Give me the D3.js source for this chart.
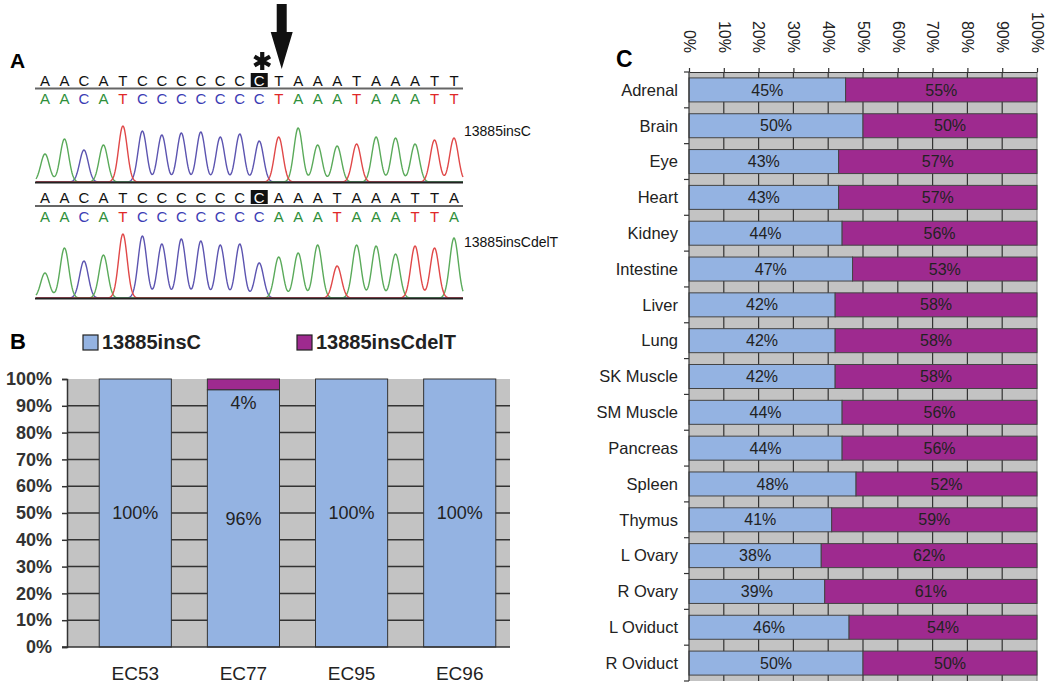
<!DOCTYPE html>
<html><head><meta charset="utf-8">
<script src="https://cdn.jsdelivr.net/npm/d3@7"></script>
<style>body{margin:0;background:#fff} svg{display:block;font-family:"Liberation Sans",Arial,sans-serif}</style>
</head><body><svg id="chart" width="1050" height="687"></svg>
<script>
// ---------- Panel A data ----------
const seq1 = "AACATCCCCCCCTAAATAAATT".split("");
const seq2 = "AACATCCCCCCCAAATAAATTA".split("");
const markIndex = 11;
const peaks1 = [28,43,32,37,56,51,47,49,50,45,48,41,45,54,37,36,38,45,44,38,42,44];
const peaks2 = [25,50,37,43,64,62,54,59,57,53,54,35,41,45,53,32,53,52,44,52,50,60];
const traceNames = ["13885insC","13885insCdelT"];
// ---------- Panel B data ----------
const bCats = ["EC53","EC77","EC95","EC96"];
const bInsC = [100,96,100,100];
const bInsCdelT = [0,4,0,0];
const bTicks = [0,10,20,30,40,50,60,70,80,90,100];
const seriesNames = ["13885insC","13885insCdelT"];
// ---------- Panel C data ----------
const cCats = ["Adrenal","Brain","Eye","Heart","Kidney","Intestine","Liver","Lung","SK Muscle","SM Muscle","Pancreas","Spleen","Thymus","L Ovary","R Ovary","L Oviduct","R Oviduct"];
const cInsC = [45,50,43,43,44,47,42,42,42,44,44,48,41,38,39,46,50];
const cInsCdelT = [55,50,57,57,56,53,58,58,58,56,56,52,59,62,61,54,50];
const cTicks = [0,10,20,30,40,50,60,70,80,90,100];

const BLUE = "#94b3e2", PURPLE = "#9e2a8f", GRAY = "#c3c3c3", DARK = "#333";
const baseTrace = {A:"#5aaa5a", C:"#5c54b0", T:"#e04848", G:"#222"};
const baseLetter = {A:"#2e8f3a", C:"#3c3cb4", T:"#e02828", G:"#222"};

const svg = d3.select("#chart");

// ================= Panel A =================
const gA = svg.append("g");
gA.append("text").attr("x",10).attr("y",68).attr("font-size",21).attr("font-weight","bold").text("A");
const px = d3.scaleLinear().domain([0,21]).range([45,454]);

function drawRow(seq, peaks, yBlack, yLine, yColor, yBase, name, nameY){
  gA.append("rect").attr("x",px(markIndex)-8.5).attr("y",yBlack-13).attr("width",17).attr("height",14).attr("fill","#111");
  gA.selectAll(null).data(seq).join("text")
    .attr("x",(d,i)=>px(i)).attr("y",yBlack).attr("text-anchor","middle").attr("font-size",15)
    .attr("fill",(d,i)=>i===markIndex?"#fff":"#111").text(d=>d);
  gA.append("line").attr("x1",35).attr("x2",463).attr("y1",yLine).attr("y2",yLine).attr("stroke","#666").attr("stroke-width",2);
  gA.selectAll(null).data(seq).join("text")
    .attr("x",(d,i)=>px(i)).attr("y",yColor).attr("text-anchor","middle").attr("font-size",15)
    .attr("fill",d=>baseLetter[d]).text(d=>d);
  const hy = d3.scaleLinear().domain([0,70]).range([yBase, yBase-70]);
  const xs = d3.range(36, 463.5, 0.5);
  const sigma = 4.3;
  ["C","A","T"].forEach(b=>{
    const pts = xs.map(x=>{
      let s = 0;
      seq.forEach((c,i)=>{ if(c===b){ const dx=x-px(i); s += peaks[i]*Math.exp(-dx*dx/(2*sigma*sigma)); } });
      return [x, hy(s)];
    });
    gA.append("path").attr("d", d3.line()(pts)).attr("fill","none").attr("stroke",baseTrace[b]).attr("stroke-width",1.4);
  });
  gA.append("line").attr("x1",35).attr("x2",463).attr("y1",yBase+0.5).attr("y2",yBase+0.5).attr("stroke","#222").attr("stroke-width",2.2);
  gA.append("text").attr("x",464).attr("y",nameY).attr("font-size",14).attr("fill","#111").text(name);
}
drawRow(seq1, peaks1, 86, 88.5, 104, 182, traceNames[0], 136);
drawRow(seq2, peaks2, 203, 206, 222, 298, traceNames[1], 247);
// asterisk and arrow (annotation marks)
gA.append("path").attr("transform",`translate(${px(markIndex)+3},61)`)
  .attr("d", d3.symbol(d3.symbolAsterisk, 230)()).attr("fill","none").attr("stroke","#111").attr("stroke-width",4.2);
const ax = px(12)+3;
gA.append("path").attr("d",`M${ax-5},4 L${ax+5},4 L${ax+5},32 L${ax+11},32 L${ax},69 L${ax-11},32 L${ax-5},32 Z`).attr("fill","#111");

// ================= Panel B =================
const gB = svg.append("g");
gB.append("text").attr("x",10).attr("y",349).attr("font-size",22).attr("font-weight","bold").text("B");
const legB = gB.selectAll(null).data(seriesNames).join("g")
  .attr("transform",(d,i)=>`translate(${[83,297][i]},335)`);
legB.append("rect").attr("width",15).attr("height",15).attr("fill",(d,i)=>[BLUE,PURPLE][i]).attr("stroke","#222").attr("stroke-width",1.2);
legB.append("text").attr("x",19).attr("y",14).attr("font-size",20).attr("font-weight","bold").attr("fill","#222").text(d=>d);

const bx0 = 67, bx1 = 510;
const by = d3.scaleLinear().domain([0,100]).range([647,379]);
const bx = d3.scaleBand().domain(bCats).range([83,512]).paddingInner(0.333).paddingOuter(0.15);
gB.append("rect").attr("x",bx0).attr("y",by(100)).attr("width",bx1-bx0).attr("height",by(0)-by(100)).attr("fill",GRAY);
gB.selectAll(null).data(bTicks.filter(t=>t>0&&t<100)).join("line")
  .attr("x1",bx0).attr("x2",bx1).attr("y1",d=>by(d)).attr("y2",d=>by(d)).attr("stroke",DARK).attr("stroke-width",1.5);
gB.selectAll(null).data(bCats).join("rect")
  .attr("x",d=>bx(d)).attr("width",bx.bandwidth())
  .attr("y",(d,i)=>by(bInsC[i])).attr("height",(d,i)=>by(0)-by(bInsC[i]))
  .attr("fill",BLUE).attr("stroke","#333").attr("stroke-width",1);
const bStack = bCats.map((d,i)=>({cat:d, lo:bInsC[i], hi:bInsC[i]+bInsCdelT[i], v:bInsCdelT[i]})).filter(o=>o.v>0);
gB.selectAll(null).data(bStack).join("rect")
  .attr("x",o=>bx(o.cat)).attr("width",bx.bandwidth())
  .attr("y",o=>by(o.hi)).attr("height",o=>by(o.lo)-by(o.hi))
  .attr("fill",PURPLE).attr("stroke","#333").attr("stroke-width",1);
gB.selectAll(null).data(bCats).join("text")
  .attr("x",d=>bx(d)+bx.bandwidth()/2).attr("y",(d,i)=>(by(0)+by(bInsC[i]))/2).attr("dy","0.35em")
  .attr("text-anchor","middle").attr("font-size",18).attr("fill","#222").text((d,i)=>bInsC[i]+"%");
gB.selectAll(null).data(bStack).join("text")
  .attr("x",o=>bx(o.cat)+bx.bandwidth()/2).attr("y",o=>by(o.lo)+13).attr("dy","0.35em")
  .attr("text-anchor","middle").attr("font-size",18).attr("fill","#222").text(o=>o.v+"%");
const yAxB = gB.append("g").attr("transform",`translate(${bx0},0)`)
  .call(d3.axisLeft(by).tickValues(bTicks).tickSize(5).tickFormat(d=>d+"%"));
yAxB.select(".domain").attr("stroke","#333").attr("stroke-width",1.5);
yAxB.selectAll(".tick line").attr("stroke","#333").attr("stroke-width",1.5);
yAxB.selectAll("text").attr("font-size",18).attr("font-weight","bold").attr("fill","#333").attr("x",-15).attr("font-family","Liberation Sans, Arial, sans-serif");
gB.append("line").attr("x1",62).attr("x2",bx1).attr("y1",by(0)).attr("y2",by(0)).attr("stroke","#333").attr("stroke-width",1.5);
gB.selectAll(null).data(bCats).join("text")
  .attr("x",d=>bx(d)+bx.bandwidth()/2).attr("y",680).attr("text-anchor","middle")
  .attr("font-size",19).attr("fill","#222").text(d=>d);

// ================= Panel C =================
const gC = svg.append("g");
gC.append("text").attr("x",616).attr("y",67).attr("font-size",23).attr("font-weight","bold").text("C");
const cx = d3.scaleLinear().domain([0,100]).range([689,1037]);
const cy = d3.scaleBand().domain(cCats).range([72,681]).paddingInner(0.33).paddingOuter(0.165);
gC.append("rect").attr("x",cx(0)).attr("y",72).attr("width",cx(100)-cx(0)).attr("height",681-72).attr("fill",GRAY);
gC.selectAll(null).data(cTicks.filter(t=>t>0)).join("line")
  .attr("x1",d=>cx(d)).attr("x2",d=>cx(d)).attr("y1",72).attr("y2",681)
  .attr("stroke",d=>d===100?"#888":DARK).attr("stroke-width",1.2);
gC.selectAll(null).data(cCats).join("rect")
  .attr("x",cx(0)).attr("y",d=>cy(d)).attr("height",cy.bandwidth())
  .attr("width",(d,i)=>cx(cInsC[i])-cx(0)).attr("fill",BLUE).attr("stroke","#444").attr("stroke-width",1);
gC.selectAll(null).data(cCats).join("rect")
  .attr("x",(d,i)=>cx(cInsC[i])).attr("y",d=>cy(d)).attr("height",cy.bandwidth())
  .attr("width",(d,i)=>cx(cInsC[i]+cInsCdelT[i])-cx(cInsC[i])).attr("fill",PURPLE).attr("stroke","#444").attr("stroke-width",1);
gC.selectAll(null).data(cCats).join("text")
  .attr("x",(d,i)=>(cx(0)+cx(cInsC[i]))/2).attr("y",d=>cy(d)+cy.bandwidth()/2).attr("dy","0.35em")
  .attr("text-anchor","middle").attr("font-size",16).attr("fill","#222").text((d,i)=>cInsC[i]+"%");
gC.selectAll(null).data(cCats).join("text")
  .attr("x",(d,i)=>(cx(cInsC[i])+cx(100))/2).attr("y",d=>cy(d)+cy.bandwidth()/2).attr("dy","0.35em")
  .attr("text-anchor","middle").attr("font-size",16).attr("fill","#222").text((d,i)=>cInsCdelT[i]+"%");
const xAxC = gC.append("g").attr("transform","translate(0,72)")
  .call(d3.axisTop(cx).tickValues(cTicks).tickSize(4).tickSizeOuter(0).tickFormat(d=>d+"%"));
xAxC.select(".domain").attr("stroke","#333").attr("stroke-width",1.2);
xAxC.selectAll(".tick line").attr("stroke","#333").attr("stroke-width",1.2);
xAxC.selectAll("text").attr("transform","rotate(90)").attr("x",-19).attr("y",0).attr("dy","0.35em")
  .attr("text-anchor","end").attr("font-size",16).attr("fill","#222").attr("font-family","Liberation Sans, Arial, sans-serif");
gC.append("line").attr("x1",cx(0)).attr("x2",cx(0)).attr("y1",72).attr("y2",681).attr("stroke","#333").attr("stroke-width",1.2);
const bounds = cCats.map(d=>cy(d)-cy.step()*cy.paddingInner()/2).concat([681]);
gC.selectAll(null).data(bounds).join("line")
  .attr("x1",cx(0)-5).attr("x2",cx(0)).attr("y1",d=>d).attr("y2",d=>d).attr("stroke","#333").attr("stroke-width",1.2);
gC.selectAll(null).data(cCats).join("text")
  .attr("x",678).attr("y",d=>cy(d)+cy.bandwidth()/2).attr("dy","0.35em")
  .attr("text-anchor","end").attr("font-size",16.5).attr("fill","#222").text(d=>d);
</script></body></html>
